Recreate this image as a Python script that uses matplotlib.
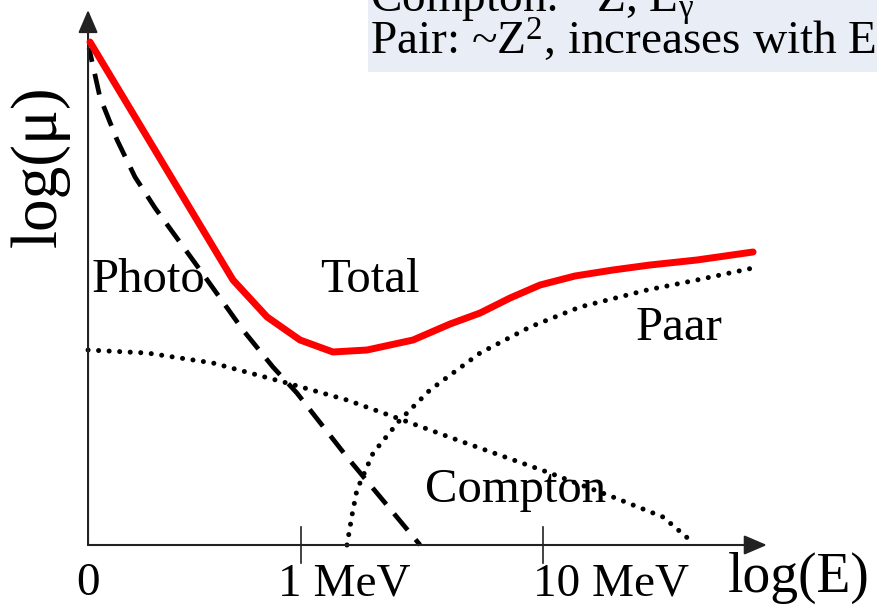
"""
Schematic of gamma attenuation coefficient vs energy (log-log).
"""
import matplotlib
matplotlib.use("Agg")
import matplotlib.pyplot as plt
from matplotlib.patches import Rectangle

plt.rcParams['font.family'] = ['Liberation Serif', 'DejaVu Serif']
plt.rcParams['mathtext.fontset'] = 'custom'
plt.rcParams['mathtext.rm'] = 'Liberation Serif'
plt.rcParams['mathtext.default'] = 'regular'

# x: log10(E / MeV), y: log(mu) in arbitrary units
x_origin = -0.88
tick_pos = [0.0, 1.0]
tick_labels = ["1 MeV", "10 MeV"]

total_x = [-0.872, -0.636, -0.430, -0.281, -0.140, -0.004, 0.132, 0.273,
           0.463, 0.616, 0.740, 0.864, 0.988, 1.132, 1.289, 1.442, 1.636, 1.868]
total_y = [5.03, 4.08, 3.25, 2.65, 2.28, 2.05, 1.93, 1.95,
           2.05, 2.21, 2.32, 2.47, 2.60, 2.69, 2.75, 2.80, 2.85, 2.93]

photo_x = [-0.876, -0.831, -0.760, -0.686, -0.603, -0.417, -0.240,
           -0.116, -0.017, 0.190, 0.492]
photo_y = [4.97, 4.48, 4.05, 3.68, 3.37, 2.75, 2.15, 1.78, 1.52, 0.88, 0.0]

compton_x = [-0.880, -0.636, -0.364, -0.058, 0.190, 0.397, 0.669,
             1.017, 1.289, 1.496, 1.607, 1.620]
compton_y = [1.95, 1.92, 1.82, 1.62, 1.45, 1.27, 1.03, 0.73, 0.48, 0.28, 0.05, 0.0]

pair_x = [0.190, 0.211, 0.231, 0.298, 0.409, 0.533, 0.740, 0.946,
          1.153, 1.430, 1.636, 1.868]
pair_y = [0.0, 0.30, 0.55, 0.92, 1.25, 1.55, 1.92, 2.18, 2.38, 2.55, 2.65, 2.77]

note_lines = [r"Compton: ~Z, E$_{\gamma}$", r"Pair: ~Z$^{2}$, increases with E"]

fig = plt.figure(figsize=(8.77, 6.07), dpi=100)
ax = fig.add_axes([0, 0, 1, 1])
ax.set_xlim(-301 / 242, 576 / 242)
ax.set_ylim(-0.62, 5.45)
ax.axis('off')

# axes with arrows
axc = '#222222'
arrow = dict(arrowstyle='-|>,head_length=0.7,head_width=0.3', lw=1.5,
             color=axc, shrinkA=0, shrinkB=0, mutation_scale=20)
ax.annotate('', xy=(x_origin, 5.35), xytext=(x_origin, 0.0), arrowprops=arrow)
ax.annotate('', xy=(1.925, 0.0), xytext=(x_origin, 0.0), arrowprops=arrow)
for t in tick_pos:
    ax.plot([t, t], [0.18, -0.18], color=axc, lw=1.2)

# curves
ax.plot(total_x, total_y, color='#ff0000', lw=5.0, solid_capstyle='round',
        solid_joinstyle='round', zorder=3)
ax.plot(photo_x, photo_y, color='black', lw=3.4, linestyle=(1.5, (4.5, 2.6)),
        dash_capstyle='butt', zorder=2)
ax.plot(compton_x, compton_y, color='black', lw=3.6, linestyle=(0, (0.01, 2.1)),
        dash_capstyle='round', zorder=2)
ax.plot(pair_x, pair_y, color='black', lw=3.6, linestyle=(0, (0.01, 2.1)),
        dash_capstyle='round', zorder=2)

# labels
fs = 35
ax.text(-0.864, 2.53, "Photo", fontsize=fs, ha='left', va='baseline')
ax.text(0.079, 2.53, "Total", fontsize=fs, ha='left', va='baseline')
ax.text(1.384, 2.05, "Paar", fontsize=fs, ha='left', va='baseline')
ax.text(0.512, 0.43, "Compton", fontsize=fs, ha='left', va='baseline', zorder=1)

ax.text(x_origin, -0.50, "0", fontsize=34, ha='center', va='baseline')
ax.text(-0.095, -0.50, tick_labels[0], fontsize=34, ha='left', va='baseline')
ax.text(0.959, -0.50, tick_labels[1], fontsize=34, ha='left', va='baseline')
ax.text(1.764, -0.47, "log(E)", fontsize=40, ha='left', va='baseline')
ax.text(-1.079, 3.79, "log(\u03bc)", fontsize=47, ha='center', va='center',
        rotation=90)

# note box in the top right corner
ax.add_patch(Rectangle((0.277, 4.73), 2.2, 1.0, facecolor='#e9edf6',
                       edgecolor='none', zorder=0))
ax.text(0.285, 5.33, note_lines[0], fontsize=34, ha='left', va='baseline')
ax.text(0.285, 4.90, note_lines[1], fontsize=34, ha='left', va='baseline')

fig.savefig("out.png", dpi=100)
